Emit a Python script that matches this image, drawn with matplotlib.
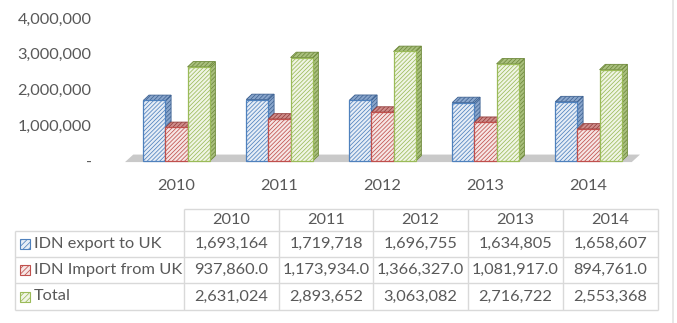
import matplotlib.pyplot as plt
from matplotlib.patches import Polygon, Rectangle
from matplotlib.ticker import FuncFormatter

# data
years = ['2010', '2011', '2012', '2013', '2014']
export_uk = [1693164, 1719718, 1696755, 1634805, 1658607]
import_uk = [937860.0, 1173934.0, 1366327.0, 1081917.0, 894761.0]
total = [2631024, 2893652, 3063082, 2716722, 2553368]
series_names = ['IDN export to UK', 'IDN Import from UK', 'Total']
series = [export_uk, import_uk, total]
fmts = ['{:,.0f}', '{:,.1f}', '{:,.0f}']

plt.rcParams['font.family'] = ['Lato', 'DejaVu Sans']
plt.rcParams['hatch.linewidth'] = 0.55
txt = '#595959'
grid = '#d9d9d9'
fs = 11.8
edge = ['#4f81bd', '#c0504d', '#9bbb59']
face = ['#e6edf6', '#f6e6e5', '#f0f5e5']
side_face = ['#8aa6cc', '#cf8d8b', '#a9bf7e']
side_edge = ['#3f6393', '#943e3c', '#6f8a3c']

W, H = 677, 323
fig = plt.figure(figsize=(W / 100, H / 100), dpi=100)
ax = fig.add_axes([125 / W, 1 - 161 / H, (640 - 125) / W, (161 - 18) / H])
ax.set_xlim(-0.5, 4.5)
ax.set_ylim(0, 4000000)

w = 0.215
dx = 0.055
dy = 150000

# floor
ax.add_patch(Polygon([(-0.5, -30000), (4.42, -30000), (4.42 + 0.08, dy + 30000),
                      (-0.5 + 0.08, dy + 30000)], closed=True,
                     facecolor='#c9c9c9', edgecolor='none', clip_on=False, zorder=1))

for i, vals in enumerate(series):
    xs = [j + (i - 1) * w for j in range(len(years))]
    for x, v in zip(xs, vals):
        r = x + w / 2
        l = x - w / 2
        ax.add_patch(Polygon([(r, 0), (r + dx, dy), (r + dx, v + dy), (r, v)],
                             facecolor=side_face[i], edgecolor=side_edge[i], hatch='////////',
                             lw=0.6, zorder=2 + i, clip_on=False))
        ax.add_patch(Polygon([(l, v), (l + dx, v + dy), (r + dx, v + dy), (r, v)],
                             facecolor=side_face[i], edgecolor=side_edge[i], hatch='////////',
                             lw=0.6, zorder=2 + i, clip_on=False))
    ax.bar(xs, vals, w, facecolor=face[i], edgecolor=edge[i], hatch='////////',
           linewidth=0.9, zorder=2 + i, clip_on=False)

for s in ax.spines.values():
    s.set_visible(False)
ax.set_xticks(range(len(years)))
ax.set_xticklabels(years)
ax.set_yticks([0, 1000000, 2000000, 3000000, 4000000])
ax.yaxis.set_major_formatter(FuncFormatter(lambda v, p: '-' if v == 0 else f'{v:,.0f}'))
ax.tick_params(axis='both', length=0, labelsize=fs, labelcolor=txt)
ax.tick_params(axis='y', pad=24)
ax.tick_params(axis='x', pad=13)
ax.patch.set_visible(False)

# data table
tax = fig.add_axes([0, 0, 1, 1], zorder=-1)
tax.set_xlim(0, W)
tax.set_ylim(H, 0)
tax.axis('off')

cols = [184, 279, 373, 468, 563, 658]
rows = [209, 231, 257, 283, 310]
left = 15
lw = 1.0
tax.hlines(rows[0], cols[0], cols[-1], color=grid, lw=lw)
tax.hlines(rows[1:], left, cols[-1], color=grid, lw=lw)
tax.vlines(left, rows[1], rows[-1], color=grid, lw=lw)
tax.vlines(cols, rows[0], rows[-1], color=grid, lw=lw)
tax.vlines(673, 0, H, color='#e3e3e3', lw=1.2)

for k, y in enumerate(years):
    tax.text((cols[k] + cols[k + 1]) / 2, (rows[0] + rows[1]) / 2, y,
             ha='center', va='center', fontsize=fs, color=txt)

for i, name in enumerate(series_names):
    yc = (rows[i + 1] + rows[i + 2]) / 2
    tax.add_patch(Rectangle((20, yc - 5), 10, 10, facecolor=face[i], edgecolor=edge[i],
                            hatch='//////', lw=0.8))
    tax.text(34, yc, name, ha='left', va='center', fontsize=fs, color=txt)
    for k, v in enumerate(series[i]):
        tax.text((cols[k] + cols[k + 1]) / 2, yc, fmts[i].format(v),
                 ha='center', va='center', fontsize=fs, color=txt)

fig.savefig('out.png', dpi=100, facecolor='white')
